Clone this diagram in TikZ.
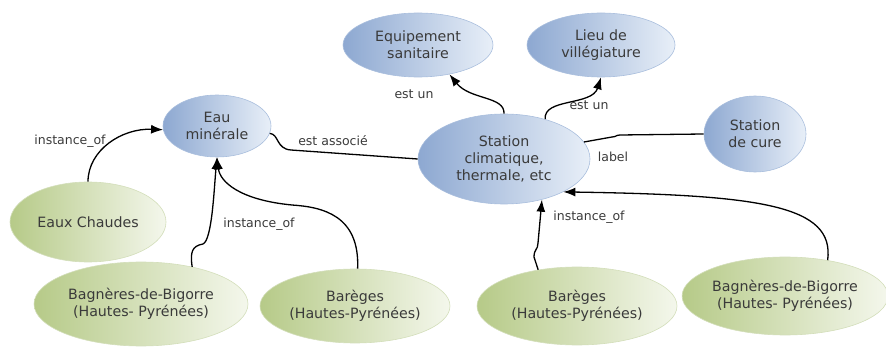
\documentclass[tikz,border=0pt]{standalone}
\usepackage{fontspec}
\setmainfont{DejaVu Sans}
\usetikzlibrary{shapes.geometric,arrows.meta}
\definecolor{bL}{HTML}{8DA8D1}
\definecolor{bR}{HTML}{E8EFF8}
\definecolor{bB}{HTML}{A9BEDD}
\definecolor{gL}{HTML}{B6CA88}
\definecolor{gR}{HTML}{F4F7EC}
\definecolor{gB}{HTML}{D3DEBA}
\definecolor{txt}{HTML}{3A3A3A}
\tikzset{
  concept/.style={ellipse, inner sep=0pt, draw=bB, line width=0.6pt, left color=bL, right color=bR,
    text=txt, align=center, font=\fontsize{14.2}{17}\selectfont},
  inst/.style={ellipse, inner sep=0pt, draw=gB, line width=0.6pt, left color=gL, right color=gR,
    text=txt, align=center, font=\fontsize{14.2}{17}\selectfont},
  lbl/.style={text=txt, font=\fontsize{12.5}{15}\selectfont, inner sep=1pt},
  link/.style={draw=black, line width=1.3pt},
  arr/.style={link, -{Latex[length=12pt,width=9pt]}},
}
\begin{document}
\begin{tikzpicture}[x=1pt,y=-1pt]
\useasboundingbox (0,0) rectangle (886,347);
% nodes
\node[concept, minimum width=150pt, minimum height=64pt] (equip) at (418,45) {Equipement\\sanitaire};
\node[concept, minimum width=148pt, minimum height=64pt] (lieu) at (601,45) {Lieu de\\villégiature};
\node[concept, minimum width=108pt, minimum height=62pt] (eau) at (217,126) {Eau\\minérale};
\node[concept, minimum width=172pt, minimum height=90pt] (station) at (504,159) {Station\\climatique,\\thermale, etc};
\node[concept, minimum width=102pt, minimum height=76pt] (cure) at (755,134) {Station\\de cure};
\node[inst, minimum width=156pt, minimum height=80pt] (eaux) at (88,222) {Eaux Chaudes};
\node[inst, minimum width=214pt, minimum height=84pt] (bag1) at (141,304) {Bagnères-de-Bigorre\\(Hautes- Pyrénées)};
\node[inst, minimum width=190pt, minimum height=74pt] (bar1) at (355,306) {Barèges\\(Hautes-Pyrénées)};
\node[inst, minimum width=200pt, minimum height=78pt] (bar2) at (577,306) {Barèges\\(Hautes-Pyrénées)};
\node[inst, minimum width=204pt, minimum height=78pt] (bag2) at (785,296) {Bagnères-de-Bigorre\\(Hautes- Pyrénées)};
% helper coordinates
\coordinate (w1) at (203,244);
\coordinate (w2) at (292,205);
\coordinate (w3) at (291,150);
\coordinate (w4) at (620,135);
\coordinate (w5) at (538,243);
% connectors
\draw[arr] (eaux.north) .. controls (88,150) and (122,128) .. (eau.184);
\draw[arr] (bag1.36) .. controls (190,252) and (192,246) .. (w1) .. controls (212,240) and (214,190) .. (eau.south);
\draw[arr] (bar1.86) .. controls (360,215) and (322,207) .. (w2) .. controls (240,200) and (220,182) .. (eau.south);
\draw[link] (eau.-8) .. controls (279,134) and (276,149) .. (w3) -- (station.west);
\draw[arr] (station.north) .. controls (505,96) and (470,100) .. (equip.-43);
\draw[arr] (station.44) .. controls (543,98) and (592,106) .. (lieu.south);
\draw[link] (station.12) -- (612,137) .. controls (616,137) and (616,135) .. (w4) -- (cure.west);
\draw[arr] (bar2.137) -- (534,257) .. controls (534,249) and (538,250) .. (w5) -- (station.-47);
\draw[arr] (bag2.40) .. controls (835,205) and (760,195) .. (station.-29);
% labels
\node[lbl] (l1) at (70,141) {instance\_of};
\node[lbl] (l2) at (259,224) {instance\_of};
\node[lbl] (l3) at (589,217) {instance\_of};
\node[lbl] (l4) at (333,141) {est associé};
\node[lbl] (l5) at (414,94) {est un};
\node[lbl] (l6) at (589,105) {est un};
\node[lbl] (l7) at (613,157) {label};
\end{tikzpicture}
\end{document}
